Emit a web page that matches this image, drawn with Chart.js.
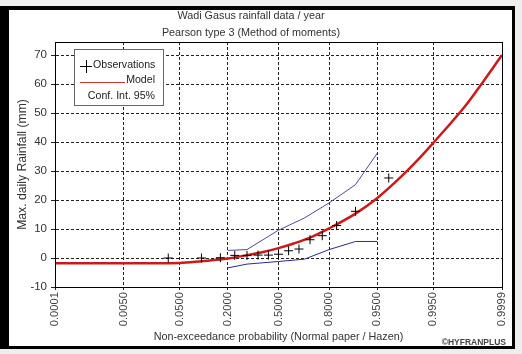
<!DOCTYPE html>
<html>
<head>
<meta charset="utf-8">
<script src="https://cdn.jsdelivr.net/npm/chart.js@4.4.1/dist/chart.umd.min.js"></script>
<style>
  html, body { margin: 0; padding: 0; background: #eeeeee; width: 522px; height: 354px; overflow: hidden; }
  #frame { position: absolute; left: 0; top: 6px; width: 515px; height: 343px; box-sizing: border-box;
           background: #ffffff; border-top: 4px solid #000; border-left: 9px solid #000;
           border-right: 3px solid #000; border-bottom: 3px solid #000; }
  #wrap { position: absolute; left: 0; top: 0; width: 522px; height: 354px; }
</style>
</head>
<body>
<div id="frame"></div>
<div id="wrap"><canvas id="c" width="522" height="354"></canvas></div>
<script>
// ---- data ----
const xTickLabels = ['0.0001', '0.0050', '0.0500', '0.2000', '0.5000', '0.8000', '0.9500', '0.9950', '0.9999'];
const yTickValues = [-10, 0, 10, 20, 30, 40, 50, 60, 70];

// observations (Hazen plotting positions, n = 15)
const obsProb = [0.0333, 0.1, 0.1667, 0.2333, 0.3, 0.3667, 0.4333, 0.5, 0.5667, 0.6333, 0.7, 0.7667, 0.8333, 0.9, 0.9667];
const obsRain = [0, 0, 0.1, 0.9, 0.9, 1.0, 1.0, 1.3, 2.5, 3.1, 6.3, 7.7, 11.2, 16.1, 27.6];

// fitted Pearson type 3 model
const modelProb = [0.0001, 0.005, 0.05, 0.1, 0.2, 0.3, 0.4, 0.5, 0.6, 0.7, 0.8, 0.9, 0.95, 0.98, 0.99, 0.995, 0.999, 0.9995, 0.9999];
const modelRain = [-1.8, -1.8, -1.7, -1.1, -0.2, 1.0, 2.1, 3.4, 5.0, 7.0, 10.2, 15.3, 20.7, 28.3, 34.0, 39.7, 52.0, 57.5, 70.0];

// 95% confidence interval
const ciProb  = [0.2, 0.3, 0.5, 0.667, 0.8, 0.9, 0.95];
const ciUpper = [2.6, 2.9, 9.6, 13.8, 19.0, 25.3, 36.2];
const ciLower = [-3.4, -2.1, -1.2, -0.4, 2.9, 5.7, 5.7];

// ---- normal probability paper transform ----
function probit(p) {
  const a = [-39.69683028665376, 220.9460984245205, -275.9285104469687, 138.3577518672690, -30.66479806614716, 2.506628277459239];
  const b = [-54.47609879822406, 161.5858368580409, -155.6989798598866, 66.80131188771972, -13.28068155288572];
  const c = [-0.007784894002430293, -0.3223964580411365, -2.400758277161838, -2.549732539343734, 4.374664141464968, 2.938163982698783];
  const d = [0.007784695709041462, 0.3224671290700398, 2.445134137142996, 3.754408661907416];
  const pl = 0.02425, ph = 1 - pl;
  let q, r;
  if (p < pl) {
    q = Math.sqrt(-2 * Math.log(p));
    return (((((c[0]*q+c[1])*q+c[2])*q+c[3])*q+c[4])*q+c[5]) / ((((d[0]*q+d[1])*q+d[2])*q+d[3])*q+1);
  } else if (p <= ph) {
    q = p - 0.5; r = q * q;
    return (((((a[0]*r+a[1])*r+a[2])*r+a[3])*r+a[4])*r+a[5])*q / (((((b[0]*r+b[1])*r+b[2])*r+b[3])*r+b[4])*r+1);
  } else {
    q = Math.sqrt(-2 * Math.log(1 - p));
    return -(((((c[0]*q+c[1])*q+c[2])*q+c[3])*q+c[4])*q+c[5]) / ((((d[0]*q+d[1])*q+d[2])*q+d[3])*q+1);
  }
}
const pts = (ps, vs) => ps.map((p, i) => ({ x: probit(p), y: vs[i] }));
const xTickZ = xTickLabels.map(s => probit(parseFloat(s)));

const FONT = "'Liberation Sans', Arial, sans-serif";
Chart.defaults.font.family = FONT;
Chart.defaults.font.size = 11;
Chart.defaults.color = '#333';

const decorations = {
  id: 'decorations',
  afterDraw(chart) {
    const ctx = chart.ctx, a = chart.chartArea;
    ctx.save();
    // plot frame
    ctx.strokeStyle = '#000'; ctx.lineWidth = 1; ctx.setLineDash([]);
    ctx.strokeRect(Math.round(a.left) + 0.5, Math.round(a.top) + 0.5, Math.round(a.right - a.left), Math.round(a.bottom - a.top));
    // legend box
    const bx = 74, by = 49, bw = 89, bh = 56;
    ctx.fillStyle = '#fff'; ctx.fillRect(bx, by, bw, bh);
    ctx.strokeStyle = '#666'; ctx.strokeRect(bx + 0.5, by + 0.5, bw, bh);
    ctx.fillStyle = '#222'; ctx.font = '10.6px ' + FONT; ctx.textBaseline = 'middle';
    // observations
    ctx.strokeStyle = '#000'; ctx.beginPath();
    ctx.moveTo(80, 66.5); ctx.lineTo(92, 66.5); ctx.moveTo(86.5, 60); ctx.lineTo(86.5, 73); ctx.stroke();
    ctx.textAlign = 'left'; ctx.fillText('Observations', 93, 65);
    // model
    ctx.strokeStyle = '#d03030'; ctx.lineWidth = 1; ctx.beginPath();
    ctx.moveTo(80, 82.5); ctx.lineTo(125, 82.5); ctx.stroke();
    ctx.textAlign = 'right'; ctx.fillText('Model', 155, 80);
    ctx.fillText('Conf. Int. 95%', 155, 96);
    // copyright
    ctx.font = 'bold 8.5px ' + FONT; ctx.textAlign = 'right'; ctx.fillStyle = '#444';
    ctx.fillText('\u00A9HYFRANPLUS', 506, 343);
    ctx.restore();
  }
};

new Chart(document.getElementById('c'), {
  type: 'scatter',
  data: {
    datasets: [
      { label: 'Observations', data: pts(obsProb, obsRain), showLine: false,
        pointStyle: 'cross', pointRadius: 4.5, borderColor: '#000', backgroundColor: '#000', borderWidth: 1, order: 0 },
      { label: 'Model', data: pts(modelProb, modelRain), showLine: true, pointRadius: 0,
        borderColor: '#cc1a1a', borderWidth: 2.5, cubicInterpolationMode: 'monotone', order: 1 },
      { label: 'Conf. Int. upper', data: pts(ciProb, ciUpper), showLine: true, pointRadius: 0,
        borderColor: '#4a4a9e', borderWidth: 1, order: 2 },
      { label: 'Conf. Int. lower', data: pts(ciProb, ciLower), showLine: true, pointRadius: 0,
        borderColor: '#2a2a8a', borderWidth: 1, order: 2 }
    ]
  },
  options: {
    responsive: false,
    animation: false,
    events: [],
    layout: { padding: { left: 0, right: 20, top: 0, bottom: 0 } },
    plugins: {
      legend: { display: false },
      tooltip: { enabled: false },
      title: { display: true, text: ['Wadi Gasus rainfall data / year', 'Pearson type 3 (Method of moments)'],
               color: '#333', font: { size: 10.8, weight: 'normal', lineHeight: 17/10.8 }, padding: { top: 8, bottom: 0 } }
    },
    scales: {
      x: {
        type: 'linear', min: xTickZ[0], max: xTickZ[xTickZ.length - 1],
        afterBuildTicks: s => { s.ticks = xTickZ.map(v => ({ value: v })); },
        afterFit: s => { s.height = 67; },
        ticks: { autoSkip: false, minRotation: 90, maxRotation: 90, padding: 2, color: '#444', font: { size: 11.2 },
                 callback: (v, i) => xTickLabels[i] },
        grid: { color: '#222', lineWidth: 1, tickLength: 3, drawOnChartArea: true },
        border: { display: true, color: '#000', dash: [3, 2] },
        title: { display: true, text: 'Non-exceedance probability (Normal paper / Hazen)', color: '#333',
                 font: { size: 10.8 }, padding: { top: 0, bottom: 10.5 } }
      },
      y: {
        type: 'linear', min: -10, max: 74.5,
        afterBuildTicks: s => { s.ticks = yTickValues.map(v => ({ value: v })); },
        afterFit: s => { s.width = 55; },
        ticks: { padding: 4, color: '#333', font: { size: 11.5 } },
        grid: { color: '#222', lineWidth: 1, tickLength: 4 },
        border: { display: true, color: '#000', dash: [3, 2] },
        title: { display: true, text: 'Max. daily Rainfall (mm)', color: '#333', font: { size: 12.2 }, padding: { top: 15.5, bottom: 0 } }
      }
    }
  },
  plugins: [decorations]
});
</script>
</body>
</html>
